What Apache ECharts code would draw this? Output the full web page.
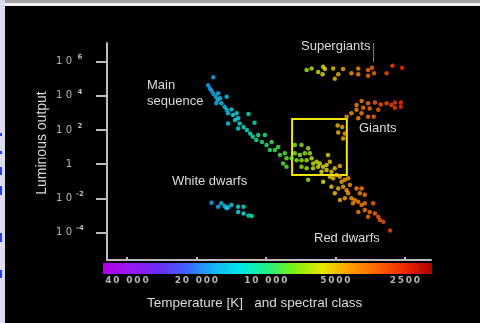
<!DOCTYPE html>
<html>
<head>
<meta charset="utf-8">
<style>
  html, body { margin: 0; padding: 0; background: #000; }
  #chart { width: 480px; height: 323px; }
</style>
<script src="https://cdn.jsdelivr.net/npm/echarts@6/dist/echarts.min.js"></script>
</head>
<body>
<div id="chart"></div>
<script>
// Hertzsprung-Russell diagram: temperature (K) vs luminosity (suns)
const tempTicks = [40000, 20000, 10000, 5000, 2500]
const lumTicks = [1e6, 1e4, 1e2, 1, 1e-2, 1e-4]

const mainTemp = [16900, 17800, 17500, 17200, 16900, 16500, 16100, 16200, 15800, 14800,
  15600, 16400, 15100, 14800, 14600, 14100, 13900, 14600, 13400, 13200,
  13600, 13000, 11900, 12500, 12100, 13200, 11200, 11700, 11400, 10800,
  11000, 10400, 10100, 9930, 9450, 9610, 9140, 8850, 8700, 8280,
  8140, 8420, 8140, 7740,
  7490, 7010, 6560, 7490, 7120, 6780, 6450, 7360, 7010, 6660,
  6340, 6240, 6030, 5840, 5940, 5650, 5460, 5380, 5280, 7010,
  6660, 6240, 6560, 5740, 5460, 5200, 5030, 4780, 5650, 5280,
  5110, 4940, 4780, 4700, 4550, 4400, 4330, 5200, 4860, 4630,
  4470, 4400, 5030, 4780, 4550, 4260, 4120, 4050, 3850, 3920,
  3730, 4190, 3980, 3850, 3730, 3430, 3980, 3730, 3550, 3370,
  3610, 3260, 3210, 3100, 2900]
const mainLum = [1.2e5, 4.2e4, 2.7e4, 2.0e4, 1.3e4, 8.8e3, 1.4e4, 5.6e3, 7.1e3, 8.8e3,
  3.6e3, 3.6e3, 2.3e3, 1.5e3, 940, 1.6e3, 740, 240, 940, 480,
  380, 240, 850, 150, 99, 120, 260, 63, 40, 50,
  26, 20, 50, 13, 20, 6.7, 6.7, 10, 3.4, 4.3,
  2.2, 1.1, 0.70, 2.2,
  13, 13, 8.4, 4.3, 3.4, 4.3, 4.3, 1.7, 1.7, 1.7,
  2.2, 1.1, 1.4, 1.1, 0.70, 0.70, 0.89, 3.4, 1.4, 0.70,
  0.57, 0.57, 0.12, 0.36, 0.45, 0.36, 0.57, 0.77, 0.093, 0.18,
  0.15, 0.23, 0.18, 0.093, 0.12, 0.15, 0.060, 0.048, 0.038, 0.048,
  0.030, 0.020, 0.020, 0.0079, 0.0100, 0.0100, 0.0079, 0.038, 0.038, 0.020,
  0.016, 0.0051, 0.0063, 0.0040, 0.0051, 0.0051, 0.0016, 0.0021, 0.0016, 0.0013,
  0.00084, 0.00084, 0.00054, 0.00043, 0.00013]

const giantTemp = [3850, 3610, 3370, 3180, 3000, 2860, 2760, 2600, 2600, 2760,
  4050, 3790, 3550, 3260, 4260, 4050, 3850, 3610, 3410, 3980,
  4470, 4890, 4670, 4860, 4550, 4630]
const giantLum = [4900, 3600, 4100, 3100, 3600, 2900, 4100, 4100, 2300, 2000,
  2900, 2000, 1800, 1500, 940, 1500, 940, 590, 590, 480,
  590, 180, 150, 72, 63, 32]

const superTemp = [6660, 6340, 5940, 5650, 5550, 5680, 5110, 5030, 4860, 4630,
  4260, 3980, 3980, 3610, 3610, 3470, 3400, 3000, 2830, 2570]
const superLum = [3.2e5, 4.0e5, 2.5e5, 5.0e5, 3.7e5, 1.8e5, 4.0e5, 1.0e5, 1.8e5, 3.7e5,
  2.1e5, 4.0e5, 1.8e5, 3.2e5, 1.5e5, 4.4e5, 2.1e5, 2.1e5, 5.7e5, 4.4e5]

const dwarfTemp = [17200, 16100, 15600, 15100, 14600, 14100, 13200, 12500, 13200, 12500, 11900, 14800, 11500]
const dwarfLum = [0.0055, 0.0032, 0.0051, 0.0035, 0.0030, 0.0040, 0.0032, 0.0032, 0.0016, 0.0013, 0.0010, 0.0026, 0.00092]

// highlighted box (sun-like stars)
const boxTemp = [7700, 4460]
const boxLum = [440, 0.23]

// spectrum under the temperature axis, hot (left) to cool (right)
const barColors = ['#b000e8', '#9818f0', '#6c2cf4', '#4060fc', '#18b0f4', '#00e8e8',
  '#20f080', '#80f010', '#e8e800', '#ff9c00', '#ff6400', '#f02800', '#a80000']

const font = '"Liberation Sans", Arial, sans-serif'
const textColor = '#dcdcdc'
const axisColor = '#bcbcbc'

function points(temps, lums) {
  return temps.map((t, i) => [t, lums[i], Math.log10(t)])
}

function spaced(s) {
  return s.split('').join('\u2009')
}

const chart = echarts.init(document.getElementById('chart'))

const scatterBase = {
  type: 'scatter',
  symbolSize: 4.5,
  animation: false
}

const option = {
  backgroundColor: '#000',
  animation: false,
  grid: { left: 107, right: 49, top: 43, bottom: 63 },
  xAxis: {
    type: 'log',
    logBase: 10,
    inverse: true,
    min: 1926,
    max: 48800,
    splitLine: { show: false },
    axisLine: { lineStyle: { color: axisColor, width: 2 } },
    axisTick: { customValues: tempTicks, inside: true, length: 3, lineStyle: { color: axisColor, width: 2 } },
    axisLabel: {
      customValues: tempTicks,
      margin: 16,
      color: '#b4b4b4',
      fontFamily: 'DejaVu Sans',
      fontWeight: 'bold',
      fontSize: 9,
      formatter: v => {
        const n = Math.round(v)
        const s = n >= 10000 ? Math.floor(n / 1000) + ' ' + String(n % 1000).padStart(3, '0') : String(n)
        return spaced(s)
      }
    }
  },
  yAxis: {
    type: 'log',
    logBase: 10,
    min: 2.45e-6,
    max: 1.23e7,
    splitLine: { show: false },
    axisLine: { lineStyle: { color: axisColor, width: 2 } },
    axisTick: { customValues: lumTicks, length: 11, lineStyle: { color: axisColor, width: 2 } },
    axisLabel: {
      customValues: lumTicks,
      margin: 22,
      formatter: v => {
        const e = Math.round(Math.log10(v))
        return e === 0 ? '{b|1}{s| }' : '{b|1 0}{s|' + e + '}'
      },
      rich: {
        b: { fontSize: 10, fontFamily: 'DejaVu Sans', color: '#b8b8b8' },
        s: { fontSize: 7, fontFamily: 'DejaVu Sans', fontWeight: 'bold', color: '#b8b8b8', width: 10, align: 'left', padding: [0, 0, 8, 3] }
      }
    }
  },
  visualMap: {
    type: 'continuous',
    show: false,
    dimension: 2,
    min: Math.log10(1910),
    max: Math.log10(50800),
    inRange: { color: barColors.slice().reverse() }
  },
  series: [
    Object.assign({}, scatterBase, {
      name: 'Main sequence',
      data: points(mainTemp, mainLum),
      markArea: {
        silent: true,
        itemStyle: { color: 'rgba(0,0,0,0)', borderColor: '#f2e40c', borderWidth: 2 },
        data: [[{ coord: [boxTemp[0], boxLum[0]] }, { coord: [boxTemp[1], boxLum[1]] }]]
      }
    }),
    Object.assign({}, scatterBase, { name: 'Giants', data: points(giantTemp, giantLum) }),
    Object.assign({}, scatterBase, { name: 'Supergiants', data: points(superTemp, superLum) }),
    Object.assign({}, scatterBase, { name: 'White dwarfs', data: points(dwarfTemp, dwarfLum) })
  ],
  graphic: [
    // page frame around the black picture
    { type: 'rect', shape: { x: 0, y: 0, width: 480, height: 3 }, style: { fill: '#a4a4a4' } },
    { type: 'rect', shape: { x: 0, y: 3, width: 480, height: 3 }, style: { fill: '#f2f2f2' } },
    { type: 'rect', shape: { x: 0, y: 0, width: 5, height: 323 }, style: { fill: '#dcdcf2' } },
    { type: 'rect', shape: { x: 0, y: 133, width: 2, height: 3 }, style: { fill: '#2a3ae8' } },
    { type: 'rect', shape: { x: 0, y: 151, width: 2, height: 3 }, style: { fill: '#2a3ae8' } },
    { type: 'rect', shape: { x: 0, y: 167, width: 2, height: 8 }, style: { fill: '#2a3ae8' } },
    { type: 'rect', shape: { x: 0, y: 186, width: 2, height: 9 }, style: { fill: '#2a3ae8' } },
    { type: 'rect', shape: { x: 0, y: 233, width: 2, height: 9 }, style: { fill: '#2a3ae8' } },
    { type: 'rect', shape: { x: 0, y: 270, width: 2, height: 8 }, style: { fill: '#2a3ae8' } },
    // colour bar
    {
      type: 'rect',
      shape: { x: 103, y: 263, width: 329, height: 11 },
      style: {
        fill: new echarts.graphic.LinearGradient(0, 0, 1, 0,
          barColors.map((c, i) => ({ offset: i / (barColors.length - 1), color: c })))
      }
    },
    // labels
    { type: 'text', x: 42, y: 143, rotation: Math.PI / 2,
      style: { text: 'Luminous output', font: '14px ' + font, fill: textColor, textAlign: 'center', textVerticalAlign: 'middle' } },
    { type: 'text', x: 147, y: 303,
      style: { text: 'Temperature [K]   and spectral class', font: '13.5px ' + font, fill: textColor, textAlign: 'left', textVerticalAlign: 'middle' } },
    { type: 'text', x: 301, y: 46,
      style: { text: 'Supergiants', font: '13px ' + font, fill: textColor, textAlign: 'left', textVerticalAlign: 'middle' } },
    { type: 'line', shape: { x1: 373.5, y1: 43, x2: 373.5, y2: 62 }, style: { stroke: '#777', lineWidth: 1 } },
    { type: 'text', x: 147, y: 85,
      style: { text: 'Main', font: '13px ' + font, fill: textColor, textAlign: 'left', textVerticalAlign: 'middle' } },
    { type: 'text', x: 147, y: 101,
      style: { text: 'sequence', font: '13px ' + font, fill: textColor, textAlign: 'left', textVerticalAlign: 'middle' } },
    { type: 'text', x: 359, y: 128,
      style: { text: 'Giants', font: '13px ' + font, fill: textColor, textAlign: 'left', textVerticalAlign: 'middle' } },
    { type: 'text', x: 172, y: 181,
      style: { text: 'White dwarfs', font: '13px ' + font, fill: textColor, textAlign: 'left', textVerticalAlign: 'middle' } },
    { type: 'text', x: 314, y: 238,
      style: { text: 'Red dwarfs', font: '13px ' + font, fill: textColor, textAlign: 'left', textVerticalAlign: 'middle' } }
  ]
}

chart.setOption(option)
</script>
</body>
</html>
